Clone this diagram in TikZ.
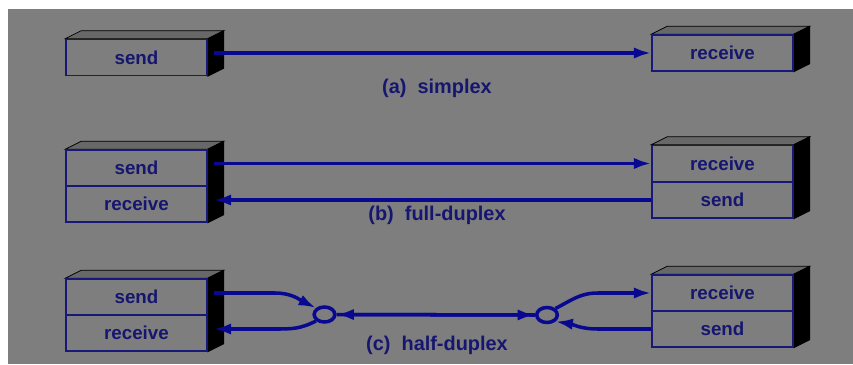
\documentclass[tikz,border=0pt]{standalone}
\usepackage{fontspec}
\setmainfont{Liberation Sans}
\usetikzlibrary{arrows.meta,shapes.geometric,calc}

\definecolor{bggray}{RGB}{126,126,126}
\definecolor{topgray}{RGB}{104,104,104}
\definecolor{boxblue}{RGB}{24,24,120}
\definecolor{wireblue}{RGB}{8,8,145}
\definecolor{textblue}{RGB}{22,22,112}

\pgfdeclarelayer{back}
\pgfdeclarelayer{faces}
\pgfsetlayers{back,faces,main}

\tikzset{
  front/.style={draw=boxblue, line width=1.3pt, fill=bggray, minimum width=4.23cm,
    minimum height=1.08cm, inner sep=0pt, text=textblue,
    font=\fontsize{16}{18}\selectfont\bfseries},
  wire/.style={draw=wireblue, line width=3pt},
  tip/.style={-{Latex[length=0.52cm,width=0.34cm]}},
  junction/.style={ellipse, draw=wireblue, line width=3pt, minimum width=0.62cm,
    minimum height=0.45cm, inner sep=0pt},
  caption/.style={text=textblue, font=\fontsize{17}{19}\selectfont\bfseries},
}

% top and side faces of a box, #1 = upper node, #2 = lower node
\newcommand{\boxfaces}[2]{%
  \begin{pgfonlayer}{faces}
  \draw[fill=topgray, line width=0.6pt] (#1.north west) -- ++(16,-8) -- ($(#1.north east)+(16,-8)$)
    -- (#1.north east) -- cycle;
  \draw[fill=black, line width=0.6pt] (#1.north east) -- ++(16,-8) -- ($(#2.south east)+(16,-8)$)
    -- (#2.south east) -- cycle;
  \end{pgfonlayer}}

\begin{document}
\begin{tikzpicture}[x=0.03cm,y=-0.03cm]
  \useasboundingbox (0,0) rectangle (853,364);
  \begin{pgfonlayer}{back}
  \fill[white] (0,0) rectangle (853,364);
  \fill[bggray] (8,9) rectangle (853,364);
  \end{pgfonlayer}

  % (a) simplex
  \node[front] (as) at (136.5,57.5) {send};
  \node[front] (ar) at (722.5,53) {receive};
  \boxfaces{as}{as}
  \boxfaces{ar}{ar}
  \draw[wire,tip] ([shift={(6,-4.5)}]as.east) -- (ar.west);
  \node[caption] (acap) at (437,88) {(a)\ \ simplex};

  % (b) full-duplex
  \node[front] (bls) at (136.5,168) {send};
  \node[front] (blr) at (136.5,204) {receive};
  \node[front] (brr) at (722.5,163.5) {receive};
  \node[front] (brs) at (722.5,200) {send};
  \boxfaces{bls}{blr}
  \boxfaces{brr}{brs}
  \draw[wire,tip] ([shift={(6,-4.5)}]bls.east) -- (brr.west);
  \draw[wire,tip] (brs.west) -- ([shift={(6,-4)}]blr.east);
  \node[caption] (bcap) at (437,215) {(b)\ \ full-duplex};

  % (c) half-duplex
  \node[front] (cls) at (136.5,297) {send};
  \node[front] (clr) at (136.5,333) {receive};
  \node[front] (crr) at (722.5,293) {receive};
  \node[front] (crs) at (722.5,329) {send};
  \boxfaces{cls}{clr}
  \boxfaces{crr}{crs}
  \node[junction] (lj) at (324.5,314.5) {};
  \node[junction] (rj) at (547,315) {};
  \draw[wire,tip] ([shift={(6,-4)}]cls.east) -- (275,293) .. controls (292,293) and (300,300) .. (lj.north west);
  \draw[wire,tip] (lj.south west) .. controls (300,329) and (292,329) .. (275,329) -- ([shift={(6,-4)}]clr.east);
  \draw[wire,tip] (rj.west) -- (lj.east);
  \draw[wire,tip] (lj.east) -- (rj.west);
  \draw[wire,tip] (rj.north east) .. controls (572,300) and (580,293) .. (598,293) -- (crr.west);
  \draw[wire,tip] (crs.west) -- (598,329) .. controls (580,329) and (572,324) .. (rj.south east);
  \node[caption] (ccap) at (437,345) {(c)\ \ half-duplex};
\end{tikzpicture}
\end{document}
